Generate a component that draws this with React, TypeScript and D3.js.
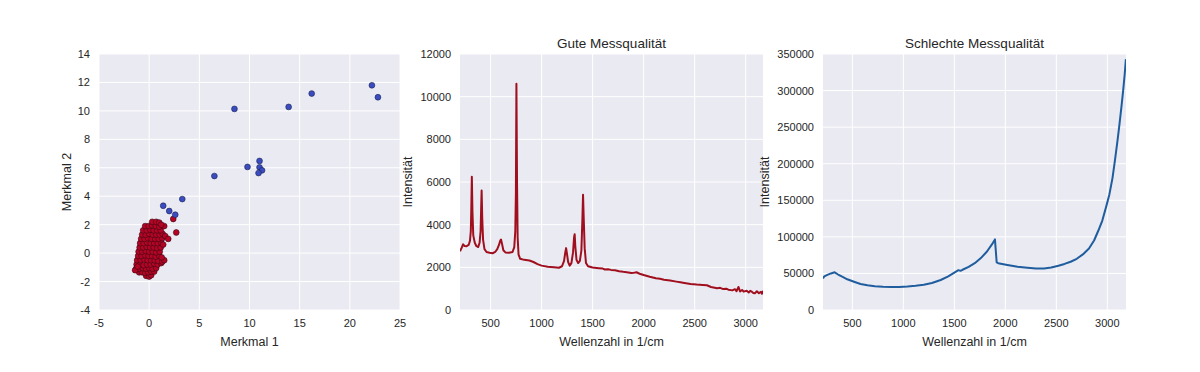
import React from "react";
import { scaleLinear, line, range } from "d3";

// scatter: feature space, red = gute Spektren, blue = schlechte Spektren
const redPoints: [number, number][] = [
  [-0.3, -1.6], [0.0, -1.65], [0.2, -1.55],
  [-1.0, -1.35], [-0.7, -1.35], [-0.4, -1.4], [-0.1, -1.35], [0.2, -1.3], [0.5, -1.3],
  [-1.3, -1.1], [-1.0, -1.1], [-0.65, -1.05], [-0.3, -1.1], [0.0, -1.05], [0.35, -1.1], [0.7, -1.05],
  [-1.25, -0.8], [-0.9, -0.8], [-0.55, -0.85], [-0.2, -0.8], [0.15, -0.8], [0.5, -0.75], [0.85, -0.8], [1.2, -0.7],
  [-1.2, -0.5], [-0.85, -0.5], [-0.5, -0.45], [-0.15, -0.5], [0.2, -0.5], [0.55, -0.5], [0.9, -0.55], [1.3, -0.6],
  [-1.1, -0.2], [-0.75, -0.2], [-0.4, -0.15], [-0.05, -0.2], [0.3, -0.2], [0.65, -0.25], [1.0, -0.2],
  [-1.05, 0.1], [-0.7, 0.1], [-0.35, 0.15], [0.0, 0.1], [0.35, 0.1], [0.7, 0.05], [1.05, 0.1],
  [-0.95, 0.4], [-0.6, 0.4], [-0.25, 0.45], [0.1, 0.4], [0.45, 0.4], [0.8, 0.35], [1.15, 0.4],
  [-0.9, 0.7], [-0.55, 0.7], [-0.2, 0.75], [0.15, 0.7], [0.5, 0.7], [0.85, 0.7], [1.2, 0.75],
  [-0.8, 1.0], [-0.45, 1.0], [-0.1, 1.05], [0.25, 1.0], [0.6, 1.0], [0.95, 1.0], [1.3, 1.05],
  [-0.7, 1.3], [-0.35, 1.3], [0.0, 1.35], [0.35, 1.3], [0.7, 1.3], [1.05, 1.3], [1.35, 1.35],
  [-0.6, 1.6], [-0.25, 1.6], [0.1, 1.65], [0.45, 1.6], [0.8, 1.6], [1.15, 1.6],
  [-0.4, 1.9], [-0.05, 1.9], [0.3, 1.95], [0.65, 1.9], [1.0, 1.85],
  [0.3, 2.2], [0.7, 2.2], [1.0, 2.15],
  [-1.4, -1.2], [-1.15, -0.95], [1.5, -0.5], [1.25, -0.3], [1.4, 0.6], [1.6, 1.2],
  [1.9, 1.0], [2.4, 2.4], [2.7, 1.45], [1.5, 1.9], [1.2, 2.0],
];

const bluePoints: [number, number][] = [
  [1.4, 3.33], [2.0, 2.96], [2.6, 2.7], [3.3, 3.8], [6.5, 5.42], [8.5, 10.14],
  [9.8, 6.06], [11.0, 6.48], [11.0, 6.03], [11.25, 5.82], [10.9, 5.63],
  [13.9, 10.28], [16.2, 11.22], [22.2, 11.8], [22.8, 10.96],
];

// spectrum with good quality: [wavenumber, intensity]
const goodSpectrum: [number, number][] = [
  [200, 2750], [215, 2900], [230, 3080], [245, 3000], [265, 2990], [285, 3050], [298, 3250],
  [306, 3700], [311, 4800], [316, 6250], [322, 4600], [330, 3500], [345, 3150], [360, 3000],
  [378, 2950], [392, 3150], [402, 3700], [407, 4700], [412, 5600], [418, 4300], [426, 3300],
  [440, 2850], [460, 2720], [490, 2680], [520, 2660], [545, 2720], [565, 2850], [582, 3050],
  [595, 3250], [602, 3300], [612, 3100], [625, 2800], [645, 2700], [680, 2680], [715, 2720],
  [732, 2950], [742, 3700], [748, 5500], [753, 10600], [759, 6000], [765, 3400], [774, 2600],
  [790, 2400], [830, 2350], [880, 2320], [920, 2250], [960, 2150], [1000, 2080], [1060, 2030],
  [1120, 2000], [1170, 1980], [1200, 2050], [1220, 2300], [1232, 2700], [1240, 2900],
  [1248, 2650], [1260, 2250], [1275, 2080], [1292, 2200], [1308, 2700], [1318, 3400],
  [1324, 3550], [1330, 3000], [1342, 2350], [1358, 2200], [1375, 2300], [1390, 2800],
  [1400, 4300], [1406, 5400], [1412, 4400], [1422, 2900], [1435, 2200], [1455, 2050],
  [1500, 1990], [1560, 1960], [1600, 1940], [1620, 1900], [1650, 1910], [1680, 1880],
  [1720, 1860], [1760, 1820], [1800, 1790], [1850, 1760], [1880, 1730], [1900, 1740],
  [1930, 1770], [1960, 1700], [2000, 1640], [2060, 1560], [2120, 1490], [2160, 1460],
  [2200, 1420], [2260, 1380], [2320, 1330], [2360, 1300], [2400, 1270], [2460, 1220],
  [2520, 1190], [2580, 1170], [2620, 1160], [2660, 1080], [2720, 1020], [2750, 1040],
  [2780, 980], [2810, 1000], [2830, 950], [2870, 920], [2890, 970], [2900, 960], [2910, 880],
  [2930, 1080], [2945, 870], [2965, 940], [2980, 860], [3010, 900], [3030, 820], [3045, 900],
  [3060, 860], [3075, 800], [3090, 780], [3110, 880], [3130, 790], [3150, 850], [3160, 760],
  [3170, 900],
];

// spectrum with bad quality (fluorescence background)
const badSpectrum: [number, number][] = [
  [212, 43000], [225, 46000], [255, 48000], [290, 50000], [326, 51500], [360, 48500],
  [400, 45500], [450, 42000], [516, 38600], [580, 35500], [647, 33800], [720, 32600],
  [800, 31900], [880, 31600], [960, 31600], [1040, 32000], [1120, 33000], [1200, 34500],
  [1280, 37000], [1366, 41000], [1440, 46000], [1500, 51000], [1540, 54500], [1560, 53500],
  [1580, 55000], [1640, 59000], [1700, 64000], [1760, 71000], [1820, 80000], [1870, 90000],
  [1898, 96500], [1915, 65000], [1930, 64000], [2020, 61500], [2120, 59000], [2216, 57700],
  [2300, 56800], [2380, 56800], [2450, 58000], [2520, 60500], [2580, 63000], [2640, 66000],
  [2700, 70000], [2760, 76000], [2820, 84000], [2870, 95000], [2910, 108000], [2950, 122000],
  [2990, 142000], [3020, 158000], [3050, 180000], [3075, 205000], [3100, 232000],
  [3120, 255000], [3140, 280000], [3155, 300000], [3170, 322000], [3182, 343000],
];

const scatterXTicks = range(-5, 26, 5);
const scatterYTicks = range(-4, 15, 2);
const waveTicks = [500, 1000, 1500, 2000, 2500, 3000];
const goodYTicks = range(0, 12001, 2000);
const badYTicks = range(0, 350001, 50000);

const FONT = "'Liberation Sans', Arial, sans-serif";
const TEXT = "#262626";
const BG = "#EAEAF2";

const top = 54;
const bottom = 310;

type AxesProps = {
  left: number;
  right: number;
  x: any;
  y: any;
  xTicks: number[];
  yTicks: number[];
  xLabel: string;
  yLabel: string;
  yLabelX: number;
  title?: string;
  children?: React.ReactNode;
};

const Axes = ({ left, right, x, y, xTicks, yTicks, xLabel, yLabel, yLabelX, title, children }: AxesProps) => {
  const cx = (left + right) / 2;
  const cy = (top + bottom) / 2;
  return (
    <g fontFamily={FONT} fill={TEXT}>
      <rect x={left} y={top} width={right - left} height={bottom - top} fill={BG} />
      {xTicks.map((t) => (
        <line key={"gx" + t} x1={x(t)} x2={x(t)} y1={top} y2={bottom} stroke="#fff" strokeWidth={1} />
      ))}
      {yTicks.map((t) => (
        <line key={"gy" + t} x1={left} x2={right} y1={y(t)} y2={y(t)} stroke="#fff" strokeWidth={1} />
      ))}
      <g clipPath={`url(#clip${left})`}>{children}</g>
      <clipPath id={`clip${left}`}>
        <rect x={left} y={top - 2} width={right - left} height={bottom - top + 4} />
      </clipPath>
      {xTicks.map((t) => (
        <text key={"tx" + t} x={x(t)} y={bottom + 17} fontSize={11} textAnchor="middle">
          {t}
        </text>
      ))}
      {yTicks.map((t) => (
        <text key={"ty" + t} x={left - 9} y={y(t) + 4} fontSize={11} textAnchor="end">
          {t}
        </text>
      ))}
      <text x={cx} y={346} fontSize={12.5} textAnchor="middle">
        {xLabel}
      </text>
      <text
        x={yLabelX}
        y={cy}
        fontSize={12.5}
        textAnchor="middle"
        transform={`rotate(-90, ${yLabelX}, ${cy})`}
        dy="0.35em"
      >
        {yLabel}
      </text>
      {title && (
        <text x={cx} y={48} fontSize={13.5} textAnchor="middle">
          {title}
        </text>
      )}
    </g>
  );
};

const App = () => {
  // scatter panel
  const sx = scaleLinear().domain([-5, 25]).range([99, 400]);
  const sy = scaleLinear().domain([-4, 14]).range([bottom, top]);

  // good spectrum panel
  const gx = scaleLinear().domain([200, 3170]).range([460, 763]);
  const gy = scaleLinear().domain([0, 12000]).range([bottom, top]);

  // bad spectrum panel
  const bx = scaleLinear().domain([212, 3183]).range([823, 1126]);
  const by = scaleLinear().domain([0, 350000]).range([bottom, top]);

  const goodLine = line<[number, number]>()
    .x((d) => gx(d[0]))
    .y((d) => gy(d[1]));
  const badLine = line<[number, number]>()
    .x((d) => bx(d[0]))
    .y((d) => by(d[1]));

  return (
    <div style={{ position: "absolute", left: 0, top: 0 }}>
      <svg width={1200} height={372} style={{ display: "block", background: "#fff" }}>
        <Axes
          left={99}
          right={400}
          x={sx}
          y={sy}
          xTicks={scatterXTicks}
          yTicks={scatterYTicks}
          xLabel="Merkmal 1"
          yLabel="Merkmal 2"
          yLabelX={67}
        >
          {redPoints.map((d, i) => (
            <circle key={"r" + i} cx={sx(d[0])} cy={sy(d[1])} r={2.9} fill="#b40426" stroke="#3a0710" strokeWidth={0.6} />
          ))}
          {bluePoints.map((d, i) => (
            <circle key={"b" + i} cx={sx(d[0])} cy={sy(d[1])} r={2.9} fill="#3b4cc0" stroke="#1a2250" strokeWidth={0.6} />
          ))}
        </Axes>
        <Axes
          left={460}
          right={763}
          x={gx}
          y={gy}
          xTicks={waveTicks}
          yTicks={goodYTicks}
          xLabel="Wellenzahl in 1/cm"
          yLabel="Intensität"
          yLabelX={408}
          title="Gute Messqualität"
        >
          <path d={goodLine(goodSpectrum) || ""} fill="none" stroke="#a00f1e" strokeWidth={2} strokeLinejoin="round" />
        </Axes>
        <Axes
          left={823}
          right={1126}
          x={bx}
          y={by}
          xTicks={waveTicks}
          yTicks={badYTicks}
          xLabel="Wellenzahl in 1/cm"
          yLabel="Intensität"
          yLabelX={765}
          title="Schlechte Messqualität"
        >
          <path d={badLine(badSpectrum) || ""} fill="none" stroke="#1f5d9e" strokeWidth={2} strokeLinejoin="round" />
        </Axes>
      </svg>
    </div>
  );
};

export default App;
